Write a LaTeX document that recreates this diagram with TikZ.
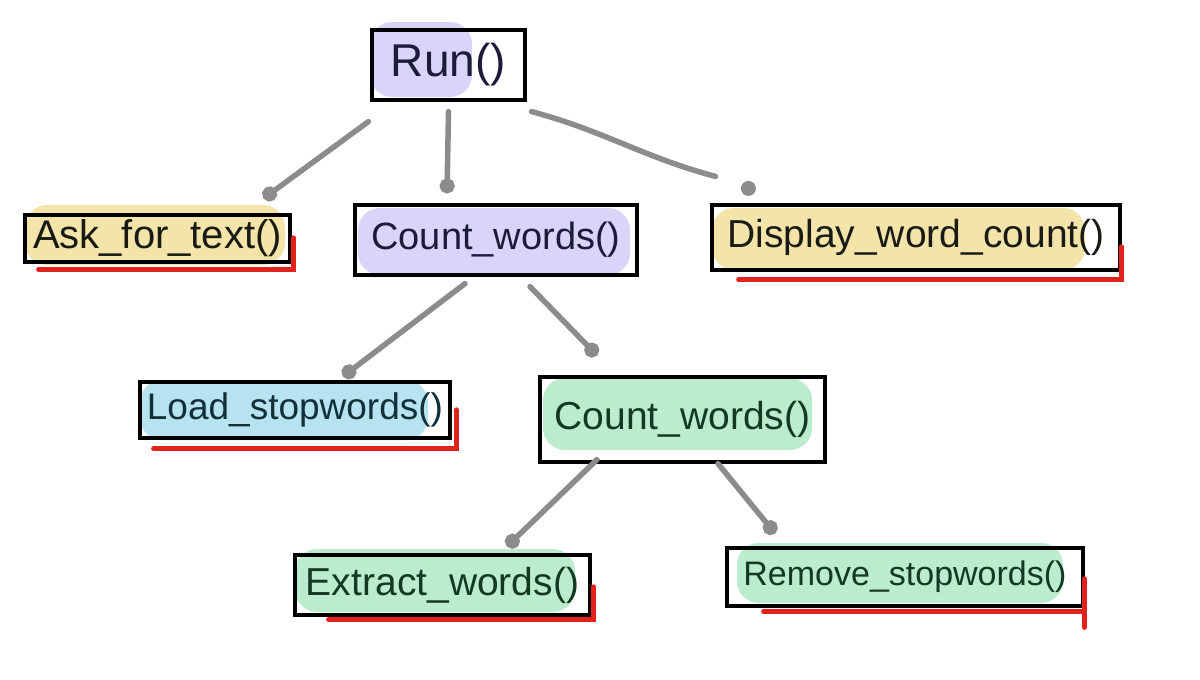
\documentclass[tikz,border=0pt]{standalone}
\usepackage{fontspec}
\setmainfont{Liberation Sans}
\usetikzlibrary{calc,arrows.meta}
\definecolor{hlpurple}{HTML}{D9D4F8}
\definecolor{hlyellow}{HTML}{F3E4AA}
\definecolor{hlblue}{HTML}{B6E3EF}
\definecolor{hlgreen}{HTML}{BAECCD}
\definecolor{edgegray}{HTML}{8C8C8C}
\definecolor{redline}{HTML}{E2231C}
\definecolor{inknavy}{HTML}{1C1C3A}
\definecolor{inkgreen}{HTML}{123A22}
\definecolor{inkteal}{HTML}{10303A}
\definecolor{inkblack}{HTML}{1A1A14}
\newcommand{\fsz}[1]{\fontsize{#1}{#1}\selectfont}
\tikzset{
  fnbox/.style={draw=black, line width=3.2pt, inner sep=0pt},
  edge/.style={draw=edgegray, line width=5.5pt, line cap=round, -{Circle[length=15pt]}},
  plainedge/.style={draw=edgegray, line width=5.5pt, line cap=round},
  uline/.style={draw=redline, line width=4.5pt, line cap=round},
  hl/.style={rounded corners=22pt}
}
\begin{document}
\begin{tikzpicture}[x=1pt,y=-1pt]
\useasboundingbox (0,0) rectangle (1200,680);
\fill[white] (0,0) rectangle (1200,680);
% highlights
\fill[hlpurple, hl] (370,22) rectangle (472,97);
\fill[hlyellow, hl] (25,205) rectangle (285,265);
\fill[hlpurple, hl] (358,208) rectangle (630,275);
\fill[hlyellow, hl] (712,208) rectangle (1085,270);
\fill[hlblue, hl] (140,380) rectangle (428,440);
\fill[hlgreen, hl] (543,378) rectangle (812,450);
\fill[hlgreen, hl] (295,549) rectangle (575,612);
\fill[hlgreen, hl] (737,543) rectangle (1063,603);
% boxes
\node[fnbox, minimum width=153pt, minimum height=70pt, text=inknavy, font=\fsz{46}] (run) at (448.5,65) {Run()};
\node[fnbox, minimum width=265pt, minimum height=47pt, text=inkblack, font=\fsz{40}] (ask) at (157.5,238.5) {Ask\_for\_text()};
\node[fnbox, minimum width=282pt, minimum height=70pt, text=inknavy, font=\fsz{38}] (cw) at (496,240) {Count\_words()};
\node[fnbox, minimum width=408pt, minimum height=65pt, text=inkblack, font=\fsz{39}] (disp) at (916,237.5) {Display\_word\_count()\hspace{20pt}};
\node[fnbox, minimum width=310pt, minimum height=56pt, text=inkteal, font=\fsz{37}] (load) at (295,410) {Load\_stopwords()};
\node[fnbox, minimum width=285pt, minimum height=85pt, text=inkgreen, font=\fsz{39}] (cwb) at (682.5,419.5) {Count\_words()\hspace{8pt}};
\node[fnbox, minimum width=295pt, minimum height=60pt, text=inkgreen, font=\fsz{39}] (ext) at (442.5,585) {Extract\_words()};
\node[fnbox, minimum width=356pt, minimum height=58pt, text=inkgreen, font=\fsz{34}] (rem) at (905,577) {Remove\_stopwords()\hspace{10pt}};
% red underlines
\draw[uline] ($(ask.south west)+(15,6)$) -- ($(ask.south east)+(2,6)$) -- ($(ask.south east)+(2,-26)$);
\draw[uline] ($(disp.south west)+(28,8)$) -- ($(disp.south east)+(0,8)$) -- ($(disp.south east)+(0,-25)$);
\draw[uline] ($(load.south west)+(15,9)$) -- ($(load.south east)+(5,9)$) -- ($(load.south east)+(5,-30)$);
\draw[uline] ($(ext.south west)+(35,3)$) -- ($(ext.south east)+(2,3)$) -- ($(ext.south east)+(2,-30)$);
\draw[uline] ($(rem.south west)+(38,4)$) -- ($(rem.south east)+(0,4)$);
\draw[uline] ($(rem.south east)+(0,-29)$) -- ($(rem.south east)+(0,20)$);
% connectors
\draw[edge] ($(run.south west)+(-2,20)$) -- ($(ask.north east)+(-28,-15)$);
\draw[edge] ($(run.south)+(0,10)$) -- ($(cw.north)+(-49,-10)$);
\draw[plainedge] ($(run.south east)+(5,10)$) to[out=-15, in=165] ($(disp.north west)+(5,-27)$);
\fill[edgegray] ($(disp.north west)+(38,-15)$) circle (7.5);
\draw[edge] ($(cw.south)+(-31,7)$) -- ($(load.north)+(48,-4)$);
\draw[edge] ($(cw.south)+(34,10)$) -- ($(cwb.north)+(-85.5,-20)$);
\draw[edge] ($(cwb.south)+(-85.5,-4)$) -- ($(ext.north)+(64.5,-7)$);
\draw[edge] ($(cwb.south)+(35.5,0)$) -- ($(rem.north)+(-130,-13)$);
\end{tikzpicture}
\end{document}
